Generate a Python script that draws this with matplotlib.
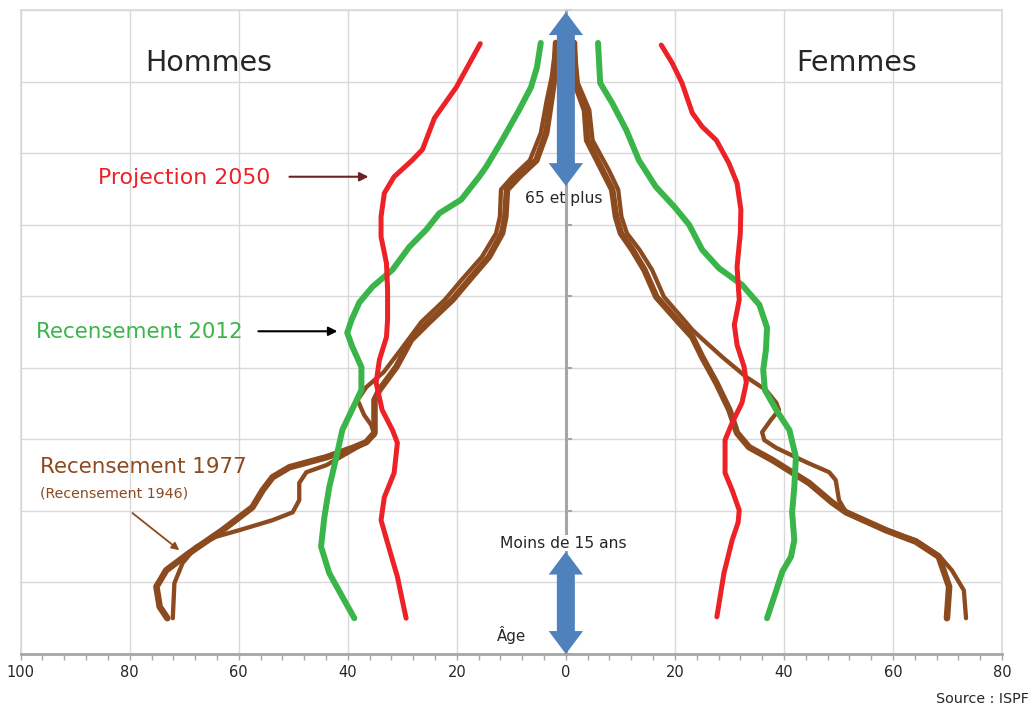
import matplotlib
matplotlib.use("Agg")
import matplotlib.pyplot as plt
from matplotlib.patches import Polygon
from matplotlib.ticker import MultipleLocator, FuncFormatter

# ---------------- data (population by age, men on the left, women on the right)
age_2050_h = [85.3, 79.2, 74.9, 70.5, 69.0, 66.7, 64.4, 61.1, 58.3, 54.6, 50.9, 46.7, 44.3,
              41.1, 37.9, 34.1, 31.3, 29.5, 25.3, 21.9, 18.7, 15.5, 10.8, 7.5, 5.0]
pop_2050_h = [15.7, 20.1, 24.1, 26.3, 28.2, 31.5, 33.3, 33.9, 33.9, 32.9, 32.7, 32.7, 32.9,
              34.2, 34.8, 33.7, 31.8, 30.9, 31.5, 33.3, 33.9, 32.7, 30.9, 30.0, 29.3]

age_2050_f = [85.1, 82.6, 79.8, 75.6, 73.7, 71.8, 68.6, 65.8, 62.1, 58.8, 54.1, 49.5, 46.0,
              43.2, 40.1, 37.9, 35.1, 32.3, 29.9, 25.3, 22.9, 20.1, 18.4, 15.9, 11.3, 5.2]
pop_2050_f = [17.5, 19.5, 21.3, 23.2, 25.0, 27.6, 29.9, 31.4, 32.1, 32.0, 31.4, 31.8, 30.9,
              31.4, 32.7, 33.1, 32.3, 30.5, 29.2, 29.2, 30.5, 31.8, 31.6, 30.5, 29.0, 27.7]

age_2012_h = [85.4, 82.0, 79.2, 76.0, 71.8, 68.1, 66.7, 63.5, 61.6, 59.3, 56.9, 53.7, 51.3,
              49.1, 46.7, 44.9, 43.0, 40.1, 36.9, 34.8, 31.3, 27.5, 23.3, 19.1, 15.0, 11.3, 8.0, 5.0]
pop_2012_h = [4.6, 5.3, 6.4, 8.6, 11.7, 14.6, 15.9, 19.2, 23.2, 25.6, 28.7, 31.8, 35.5,
              37.9, 39.3, 40.1, 39.2, 37.5, 37.5, 38.8, 41.0, 42.1, 43.4, 44.3, 44.9, 43.4, 41.0, 38.8]

age_2012_f = [85.4, 79.8, 77.0, 73.2, 69.0, 65.3, 62.5, 60.0, 56.5, 53.9, 51.6, 48.8, 45.6,
              42.5, 39.7, 36.9, 34.1, 31.3, 27.5, 23.3, 19.8, 15.9, 13.6, 11.5, 8.9, 5.0]
pop_2012_f = [5.9, 6.3, 8.5, 11.1, 13.4, 16.5, 19.9, 22.6, 25.0, 28.1, 32.3, 35.5, 36.9,
              36.7, 36.2, 36.5, 38.6, 41.0, 42.2, 41.9, 41.5, 41.9, 41.3, 39.7, 38.6, 36.9]

age_1977_h = [85.4, 80.6, 77.4, 72.8, 69.0, 66.7, 64.9, 61.1, 58.8, 55.5, 52.3, 49.5, 46.4,
              43.9, 40.1, 36.9, 35.5, 30.9, 29.6, 28.8, 27.5, 26.1, 24.7, 22.9, 20.5, 17.3,
              14.1, 11.7, 9.4, 6.6, 5.0]
pop_1977_h = [1.8, 2.1, 2.7, 3.6, 5.4, 8.6, 10.8, 11.1, 11.7, 14.1, 17.7, 20.8, 25.1,
              28.4, 31.1, 34.2, 35.1, 35.1, 36.6, 39.1, 43.9, 50.7, 53.8, 55.6, 57.5, 63.0,
              69.1, 73.3, 75.1, 74.5, 73.1]

age_1977_f = [85.4, 79.8, 76.0, 71.8, 67.6, 64.9, 61.1, 58.8, 56.5, 53.7, 49.9, 46.3, 44.3,
              41.5, 37.9, 34.1, 30.9, 28.9, 27.1, 23.9, 21.2, 19.8, 17.3, 15.7, 13.6, 9.4, 5.0]
pop_1977_f = [1.5, 1.7, 3.5, 3.9, 6.7, 8.5, 9.2, 10.1, 12.2, 14.4, 16.6, 20.8, 23.2,
              25.0, 27.6, 30.0, 31.4, 33.6, 37.9, 44.6, 48.8, 51.4, 58.7, 64.2, 68.4, 70.3, 69.9]

age_1946_h = [85.4, 80.6, 77.4, 72.8, 69.0, 66.7, 64.9, 61.1, 58.8, 55.5, 52.3, 49.5, 46.4,
              42.5, 39.4, 37.3, 35.5, 33.4, 32.0, 30.6, 29.6, 28.5, 26.4, 25.4, 23.9, 21.5,
              19.8, 18.7, 17.3, 16.4, 15.0, 12.7, 9.9, 5.0]
pop_1946_h = [1.8, 2.6, 3.5, 4.6, 6.6, 9.8, 11.9, 12.1, 12.8, 15.4, 19.1, 22.2, 26.5,
              30.3, 33.4, 36.6, 38.2, 37.0, 35.7, 35.1, 36.6, 39.1, 43.9, 47.6, 48.9, 48.9,
              50.1, 53.8, 59.9, 64.1, 67.8, 70.3, 71.8, 72.1]

age_1946_f = [85.4, 79.8, 76.0, 71.8, 67.6, 64.9, 61.1, 58.8, 56.5, 53.7, 49.9, 46.3, 45.3,
              43.9, 41.5, 38.7, 36.9, 35.1, 34.1, 32.7, 31.0, 29.9, 28.8, 26.8, 25.4, 24.3,
              21.5, 19.8, 17.3, 15.9, 13.8, 11.7, 8.9, 5.0]
pop_1946_f = [1.5, 2.2, 4.3, 4.9, 7.9, 9.6, 10.2, 11.2, 13.5, 15.8, 18.0, 22.1, 23.2,
              25.2, 28.7, 33.1, 36.7, 38.6, 39.1, 37.6, 36.0, 36.4, 38.6, 44.1, 48.3, 49.5,
              50.1, 51.4, 58.7, 64.2, 68.4, 70.8, 73.0, 73.4]

x_ticks = [-100, -80, -60, -40, -20, 0, 20, 40, 60, 80]
age_gridlines = [0, 10, 20, 30, 40, 50, 60, 70, 80, 90]

RED = '#EC2227'
GREEN = '#39B54A'
BROWN = '#8C4A1F'
BLUE = '#4F81BD'
GRID = '#D9D9D9'
AXIS = '#A6A6A6'
TXT = '#262626'

plt.rcParams['font.family'] = ['DejaVu Sans']

fig = plt.figure(figsize=(10.33, 7.06), dpi=100)
ax = fig.add_axes([0.02, 0.0737, 0.95, 0.9121])
ax.set_xlim(-100, 80)
ax.set_ylim(0, 90)

# grid
ax.set_xticks(x_ticks)
ax.set_yticks(age_gridlines)
ax.xaxis.set_minor_locator(MultipleLocator(4))
ax.grid(True, which='major', color=GRID, lw=1.0, zorder=0)
ax.set_axisbelow(True)
ax.axvline(-100, color=GRID, lw=1.2, clip_on=False, zorder=0)
for s in ['top', 'right']:
    ax.spines[s].set_color(GRID)
    ax.spines[s].set_linewidth(1.2)
ax.spines['bottom'].set_color(AXIS)
ax.spines['bottom'].set_linewidth(2.0)
ax.spines['left'].set_position(('data', 0))
ax.spines['left'].set_color(AXIS)
ax.spines['left'].set_linewidth(2.2)
ax.spines['left'].set_zorder(1)

ax.xaxis.set_major_formatter(FuncFormatter(lambda v, p: f"{abs(int(round(v)))}"))
ax.tick_params(axis='x', which='both', direction='out', color=AXIS, width=1.0,
               labelsize=10.5, labelcolor=TXT, pad=4)
ax.tick_params(axis='x', which='major', length=4)
ax.tick_params(axis='x', which='minor', length=4)
ax.tick_params(axis='y', which='both', direction='in', length=4, width=1.5,
               color=AXIS, labelleft=False, left=True, right=False)

kw = dict(solid_capstyle='round', solid_joinstyle='round')

# brown (bottom layer)
ax.plot([-v for v in pop_1946_h], age_1946_h, color=BROWN, lw=3.1, zorder=2, **kw)
ax.plot(pop_1946_f, age_1946_f, color=BROWN, lw=3.1, zorder=2, **kw)
ax.plot([-v for v in pop_1977_h], age_1977_h, color=BROWN, lw=4.7, zorder=2, **kw)
ax.plot(pop_1977_f, age_1977_f, color=BROWN, lw=4.7, zorder=2, **kw)
# green
ax.plot([-v for v in pop_2012_h], age_2012_h, color=GREEN, lw=4.3, zorder=3, **kw)
ax.plot(pop_2012_f, age_2012_f, color=GREEN, lw=4.3, zorder=3, **kw)
# red
ax.plot([-v for v in pop_2050_h], age_2050_h, color=RED, lw=3.6, zorder=4, **kw)
ax.plot(pop_2050_f, age_2050_f, color=RED, lw=3.6, zorder=4, **kw)


def double_arrow(y_top, y_bot, head_len=3.2, head_half=3.15, shaft_half=1.65):
    pts = [(0, y_top), (head_half, y_top - head_len), (shaft_half, y_top - head_len),
           (shaft_half, y_bot + head_len), (head_half, y_bot + head_len), (0, y_bot),
           (-head_half, y_bot + head_len), (-shaft_half, y_bot + head_len),
           (-shaft_half, y_top - head_len), (-head_half, y_top - head_len)]
    ax.add_patch(Polygon(pts, closed=True, facecolor=BLUE, edgecolor='none',
                         zorder=6, clip_on=False))


double_arrow(89.7, 65.4)
double_arrow(14.3, 0.0)

# texts
ax.text(-65.5, 82.6, "Hommes", fontsize=20.5, color=TXT, ha='center', va='center', zorder=7)
ax.text(53.4, 82.6, "Femmes", fontsize=20.5, color=TXT, ha='center', va='center', zorder=7)
ax.text(-85.9, 66.5, "Projection 2050", fontsize=15.8, color=RED, ha='left', va='center', zorder=7)
ax.text(-97.1, 45.0, "Recensement 2012", fontsize=15.4, color=GREEN, ha='left', va='center', zorder=7)
ax.text(-96.5, 26.1, "Recensement 1977", fontsize=15.4, color=BROWN, ha='left', va='center', zorder=7)
ax.text(-96.5, 22.4, "(Recensement 1946)", fontsize=10.2, color=BROWN, ha='left', va='center', zorder=7)
ax.text(-0.3, 63.6, "65 et plus", fontsize=11.2, color=TXT, ha='center', va='center', zorder=7)
ax.text(-0.5, 15.5, "Moins de 15 ans", fontsize=11.2, color=TXT, ha='center', va='center', zorder=7,
        bbox=dict(facecolor='white', edgecolor='none', pad=0.5))
ax.text(-12.6, 2.6, "Âge", fontsize=10.8, color=TXT, ha='left', va='center', zorder=7)
fig.text(0.996, 0.01, "Source : ISPF", fontsize=10.3, color=TXT, ha='right', va='center')

# arrows pointing to curves
ax.annotate("", xy=(-36.2, 66.7), xytext=(-50.7, 66.7),
            arrowprops=dict(arrowstyle='-|>', color='#6B2426', lw=1.5, mutation_scale=13,
                            shrinkA=0, shrinkB=0), zorder=7)
ax.annotate("", xy=(-41.9, 45.1), xytext=(-56.4, 45.1),
            arrowprops=dict(arrowstyle='-|>', color='black', lw=1.5, mutation_scale=13,
                            shrinkA=0, shrinkB=0), zorder=7)
ax.annotate("", xy=(-70.9, 14.5), xytext=(-79.5, 19.7),
            arrowprops=dict(arrowstyle='-|>', color=BROWN, lw=1.3, mutation_scale=11,
                            shrinkA=0, shrinkB=0), zorder=7)

fig.savefig("out.png", dpi=100)
